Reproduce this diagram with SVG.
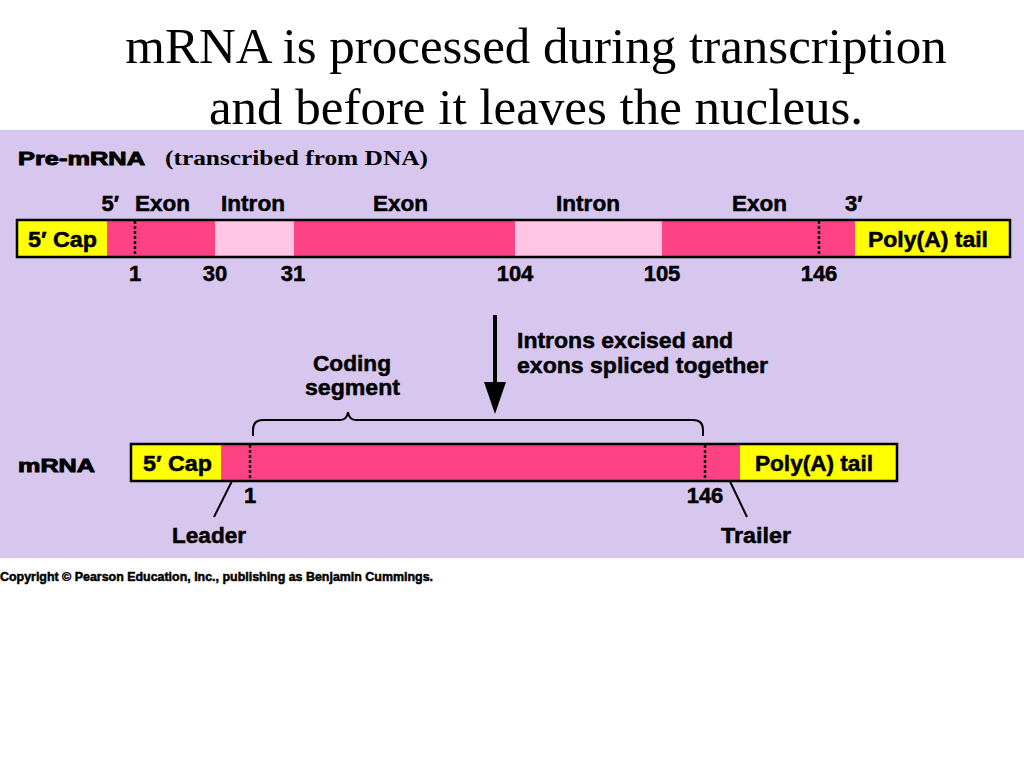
<svg xmlns="http://www.w3.org/2000/svg" width="1024" height="768" viewBox="0 0 1024 768">
<defs>
<style>
.t{font-family:"Liberation Serif","Times New Roman",serif;fill:#000}
.s{font-family:"Liberation Sans",Arial,sans-serif;font-weight:bold;fill:#000;stroke:#000;stroke-width:0.5}
.lbl{font-size:22px}
.hv{font-size:19px;stroke-width:0.9}
.bar{stroke:#000;stroke-width:2.5;fill:none}
.ex{fill:#FF4284}
.in{fill:#FFC6E4}
.cap{fill:#FFFF00}
.dash{stroke:#000;stroke-width:2.5;stroke-dasharray:3 2}
.ln{stroke:#000;stroke-width:2;fill:none}
</style>
</defs>
<rect width="1024" height="768" fill="#fff"/>
<text class="t" x="536" y="63" font-size="51" text-anchor="middle">mRNA is processed during transcription</text>
<text class="t" x="536" y="124" font-size="51" text-anchor="middle">and before it leaves the nucleus.</text>
<rect x="0" y="130" width="1024" height="428" fill="#D7C6EE"/>

<g id="premrna">
<text class="s hv" x="18" y="165" textLength="127" lengthAdjust="spacingAndGlyphs">Pre-mRNA</text>
<text class="t" x="165" y="165" font-size="20" font-weight="bold" textLength="263" lengthAdjust="spacingAndGlyphs">(transcribed from DNA)</text>
<rect class="cap" x="17" y="220" width="90" height="37"/>
<rect class="ex" x="107" y="220" width="108" height="37"/>
<rect class="in" x="215" y="220" width="79" height="37"/>
<rect class="ex" x="294" y="220" width="221" height="37"/>
<rect class="in" x="515" y="220" width="147" height="37"/>
<rect class="ex" x="662" y="220" width="193" height="37"/>
<rect class="cap" x="855" y="220" width="155" height="37"/>
<rect class="bar" x="17" y="220" width="993" height="37"/>
<line class="dash" x1="135" y1="221" x2="135" y2="256"/>
<line class="dash" x1="819" y1="221" x2="819" y2="256"/>
<text class="s lbl" x="28" y="247" textLength="69" lengthAdjust="spacingAndGlyphs">5′ Cap</text>
<text class="s lbl" x="868" y="247" textLength="120" lengthAdjust="spacingAndGlyphs">Poly(A) tail</text>
<g class="s lbl">
<text x="119" y="211" text-anchor="end">5′</text>
<text x="135" y="211" textLength="55" lengthAdjust="spacingAndGlyphs">Exon</text>
<text x="221" y="211" textLength="64" lengthAdjust="spacingAndGlyphs">Intron</text>
<text x="373" y="211" textLength="55" lengthAdjust="spacingAndGlyphs">Exon</text>
<text x="556" y="211" textLength="64" lengthAdjust="spacingAndGlyphs">Intron</text>
<text x="732" y="211" textLength="55" lengthAdjust="spacingAndGlyphs">Exon</text>
<text x="845" y="211">3′</text>
<text x="135" y="281" text-anchor="middle">1</text>
<text x="215" y="281" text-anchor="middle">30</text>
<text x="293" y="281" text-anchor="middle">31</text>
<text x="515" y="281" text-anchor="middle">104</text>
<text x="662" y="281" text-anchor="middle">105</text>
<text x="819" y="281" text-anchor="middle">146</text>
</g>
</g>

<g id="connectors">
<polygon points="493,315 497,315 497,382 506,382 495,414 484,382 493,382" fill="#000"/>
<path class="ln" d="M253,436 L253,430 Q253,420 263,420 L340,420 Q347,420 348,412 Q349,420 356,420 L693,420 Q703,420 703,430 L703,436"/>
<line class="ln" x1="236" y1="473" x2="214" y2="517"/>
<line class="ln" x1="726" y1="473" x2="747" y2="517"/>
</g>

<g id="step">
<text class="s lbl" x="517" y="348" textLength="216" lengthAdjust="spacingAndGlyphs">Introns excised and</text>
<text class="s lbl" x="517" y="373" textLength="251" lengthAdjust="spacingAndGlyphs">exons spliced together</text>
</g>

<g id="coding">
<text class="s lbl" x="313" y="371" textLength="78" lengthAdjust="spacingAndGlyphs">Coding</text>
<text class="s lbl" x="305" y="395" textLength="95" lengthAdjust="spacingAndGlyphs">segment</text>
</g>

<g id="mrna">
<text class="s hv" x="18" y="472" textLength="77" lengthAdjust="spacingAndGlyphs">mRNA</text>
<rect class="cap" x="131" y="444" width="90" height="37"/>
<rect class="ex" x="221" y="444" width="519" height="37"/>
<rect class="cap" x="740" y="444" width="157" height="37"/>
<rect class="bar" x="131" y="444" width="766" height="37"/>
<line class="dash" x1="250" y1="445" x2="250" y2="480"/>
<line class="dash" x1="705" y1="445" x2="705" y2="480"/>
<text class="s lbl" x="143" y="471" textLength="69" lengthAdjust="spacingAndGlyphs">5′ Cap</text>
<text class="s lbl" x="755" y="471" textLength="118" lengthAdjust="spacingAndGlyphs">Poly(A) tail</text>
<text class="s lbl" x="250" y="503" text-anchor="middle">1</text>
<text class="s lbl" x="705" y="503" text-anchor="middle">146</text>
</g>

<g id="leader"><text class="s lbl" x="172" y="543" textLength="74" lengthAdjust="spacingAndGlyphs">Leader</text></g>
<g id="trailer"><text class="s lbl" x="721" y="543" textLength="70" lengthAdjust="spacingAndGlyphs">Trailer</text></g>

<text class="s" x="0" y="581" font-size="12.5" stroke-width="0.2" textLength="433" lengthAdjust="spacingAndGlyphs">Copyright © Pearson Education, Inc., publishing as Benjamin Cummings.</text>
</svg>
